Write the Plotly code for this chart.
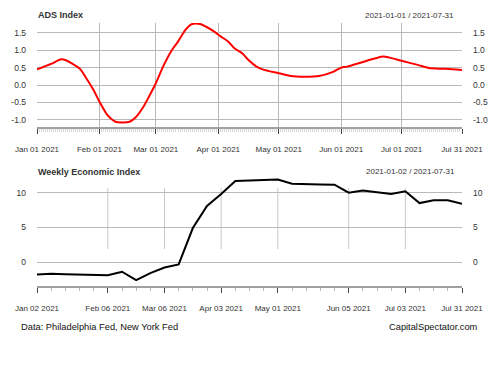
import plotly.graph_objects as go
import pandas as pd

# ---------------- data ----------------
ads_dates = ["2021-01-01", "2021-01-08", "2021-01-13", "2021-01-15", "2021-01-22", "2021-01-25",
             "2021-01-29", "2021-02-01", "2021-02-05", "2021-02-09", "2021-02-12", "2021-02-16",
             "2021-02-19", "2021-02-23", "2021-02-26", "2021-03-01", "2021-03-05", "2021-03-09",
             "2021-03-12", "2021-03-16", "2021-03-19", "2021-03-23", "2021-03-26", "2021-03-30",
             "2021-04-02", "2021-04-06", "2021-04-09", "2021-04-13", "2021-04-16", "2021-04-20",
             "2021-04-23", "2021-05-01", "2021-05-07", "2021-05-14", "2021-05-21", "2021-05-28",
             "2021-06-01", "2021-06-04", "2021-06-11", "2021-06-18", "2021-06-22", "2021-06-25",
             "2021-07-01", "2021-07-09", "2021-07-16", "2021-07-23", "2021-07-31"]
ads_values = [0.45, 0.61, 0.74, 0.72, 0.48, 0.24,
              -0.14, -0.48, -0.87, -1.06, -1.08, -1.06,
              -0.93, -0.61, -0.29, 0.05, 0.58, 1.01,
              1.25, 1.61, 1.76, 1.76, 1.68, 1.54,
              1.41, 1.25, 1.06, 0.91, 0.72, 0.53,
              0.45, 0.34, 0.26, 0.24, 0.26, 0.38,
              0.50, 0.53, 0.65, 0.77, 0.82, 0.79,
              0.70, 0.58, 0.48, 0.47, 0.43]

wei_dates = [d.strftime("%Y-%m-%d") for d in pd.date_range("2021-01-02", "2021-07-31", freq="7D")]
wei_values = [-1.8, -1.7, -1.75, -1.8, -1.85, -1.9, -1.4, -2.6, -1.6, -0.8, -0.35,
              4.9, 8.1, 9.8, 11.7, 11.8, 11.9, 11.9, 11.3, 11.2, 11.2, 11.15,
              10.0, 10.3, 10.1, 9.8, 10.2, 8.5, 8.9, 8.9, 8.4]

ads_xticks = ["2021-01-01", "2021-02-01", "2021-03-01", "2021-04-01", "2021-05-01",
              "2021-06-01", "2021-07-01", "2021-07-31"]
wei_xticks = ["2021-01-02", "2021-02-06", "2021-03-06", "2021-04-03", "2021-05-01",
              "2021-06-05", "2021-07-03", "2021-07-31"]
ads_yticks = [-1.0, -0.5, 0.0, 0.5, 1.0, 1.5]
ads_yticktext = ["-1.0", "-0.5", "0.0", "0.5", "1.0", "1.5"]
wei_yticks = [0, 5, 10]

# ---------------- layout helpers ----------------
W, H = 500, 385
XL, XR = 37 / W, 462 / W
top_dom = [1 - 127 / H, 1 - 23 / H]
bot_dom = [1 - 286 / H, 1 - 178 / H]
top_range = [-1.211, 1.788]
bot_range = [-3.46, 12.12]

FONT = "Liberation Sans, Arial, sans-serif"
TXT = "#333333"
GRID = "#b9b9b9"

fig = go.Figure()
fig.add_trace(go.Scatter(x=ads_dates, y=ads_values, mode="lines",
                         line=dict(color="#ff0000", width=2, shape="spline", smoothing=0.8),
                         xaxis="x", yaxis="y", hoverinfo="skip"))
fig.add_trace(go.Scatter(x=ads_dates, y=ads_values, mode="lines", line=dict(width=0),
                         opacity=0, xaxis="x", yaxis="y3", hoverinfo="skip"))
fig.add_trace(go.Scatter(x=wei_dates, y=wei_values, mode="lines",
                         line=dict(color="#000000", width=2),
                         xaxis="x2", yaxis="y2", hoverinfo="skip"))
fig.add_trace(go.Scatter(x=wei_dates, y=wei_values, mode="lines", line=dict(width=0),
                         opacity=0, xaxis="x2", yaxis="y4", hoverinfo="skip"))

tickfont = dict(family=FONT, size=8.5, color=TXT)
xtickfont = dict(family=FONT, size=8, color=TXT)

xcommon = dict(showline=True, linecolor="#a0a0a0", linewidth=2, ticks="outside", ticklen=5,
               tickcolor="#444444", tickwidth=1, tickfont=xtickfont, tickformat="%b %d %Y",
               ticklabelstandoff=8, zeroline=False, domain=[XL, XR], automargin=False)

ycommon = dict(zeroline=False, tickfont=tickfont, ticks="", ticklabelstandoff=10, automargin=False)

fig.update_layout(
    width=W, height=H, margin=dict(l=0, r=0, t=0, b=0, autoexpand=False),
    paper_bgcolor="white", plot_bgcolor="white", showlegend=False,
    xaxis=dict(**xcommon, anchor="y", range=[ads_dates[0], ads_dates[-1]], tickvals=ads_xticks,
               showgrid=True, gridcolor=GRID, gridwidth=1,
               minor=dict(ticks="outside", ticklen=3, tickcolor="#d8d8d8", dtick=86400000,
                          showgrid=False)),
    xaxis2=dict(**xcommon, anchor="y2", range=[wei_dates[0], wei_dates[-1]], tickvals=wei_xticks,
                showgrid=False,
                minor=dict(ticks="outside", ticklen=3, tickcolor="#bbbbbb", dtick=7 * 86400000,
                           tick0=wei_dates[0], showgrid=False)),
    yaxis=dict(**ycommon, domain=top_dom, range=top_range, tickvals=ads_yticks,
               ticktext=ads_yticktext, showgrid=True, gridcolor=GRID, anchor="x"),
    yaxis3=dict(**ycommon, domain=top_dom, range=top_range, tickvals=ads_yticks,
                ticktext=ads_yticktext, overlaying="y", side="right", showgrid=False, anchor="x"),
    yaxis2=dict(**ycommon, domain=bot_dom, range=bot_range, tickvals=wei_yticks,
                showgrid=True, gridcolor=GRID, anchor="x2"),
    yaxis4=dict(**ycommon, domain=bot_dom, range=bot_range, tickvals=wei_yticks,
                overlaying="y2", side="right", showgrid=False, anchor="x2"),
)

# partial vertical grid lines in the lower panel
for t in wei_xticks[1:-1]:
    fig.add_shape(type="line", xref="x2", yref="y2", x0=t, x1=t, y0=1.88, y1=10.68,
                  line=dict(color="#c8c8c8", width=1), layer="below")

# titles and labels
def ann(text, x, y, xanchor, size=9, bold=False, color=TXT):
    fig.add_annotation(text=f"<b>{text}</b>" if bold else text, xref="paper", yref="paper",
                       x=x / W, y=1 - y / H, xanchor=xanchor, yanchor="middle", showarrow=False,
                       font=dict(family=FONT, size=size, color=color))

ann("ADS Index", 36, 15, "left", 9, True)
ann("2021-01-01 / 2021-07-31", 456, 15, "right", 8)
ann("Weekly Economic Index", 36, 172, "left", 9, True)
ann("2021-01-02 / 2021-07-31", 457, 172, "right", 8)
ann("Data: Philadelphia Fed, New York Fed", 19, 327, "left", 9.3, False, "#111111")
ann("CapitalSpectator.com", 480, 327, "right", 9.3, False, "#111111")

fig.write_html("out.html", config={"displayModeBar": False},
               post_script="document.body.style.margin='0px';")
